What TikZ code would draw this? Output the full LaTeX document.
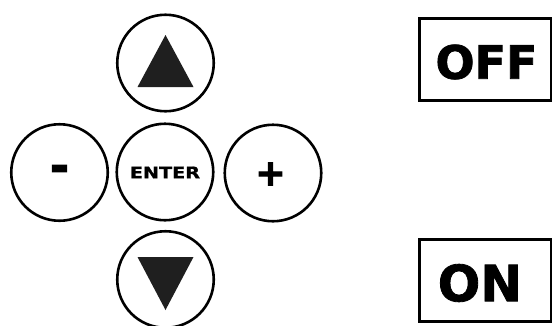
\documentclass[tikz,border=0pt]{standalone}
\usepackage{fontspec}
\newfontfamily\heavyfont{DejaVu Sans Bold}[FakeBold=1.6]
\newfontfamily\signfont{DejaVu Sans Bold}[FakeBold=3]
\newfontfamily\wideenter{DejaVu Sans Bold}[FakeStretch=1.2,FakeBold=1]
\begin{document}
\begin{tikzpicture}[x=1pt,y=-1pt,
  btn/.style={draw=black,line width=2.6pt,circle,minimum size=96.5pt,inner sep=0pt},
  lampbox/.style={draw=black,line width=3pt,rectangle,inner sep=0pt,minimum width=132pt,minimum height=82pt},
  tri/.style={fill=black!88}]
\useasboundingbox (0,0) rectangle (552,325);
\clip (0,0) rectangle (552,325);
\node[btn] (up) at (165.5,63) {};
\node[btn] (minus) at (59.5,172.5) {};
\node[btn] (enter) at (165,172) {};
\node[btn] (plus) at (273,173) {};
\node[btn] (down) at (165.5,279.5) {};
\node at ([yshift=-0.5pt]enter.center) {\wideenter\fontsize{16}{16}\selectfont ENTER};
\node at ([xshift=-2.5pt,yshift=-1pt]plus.center) {\signfont\fontsize{36}{36}\selectfont +};
\node at ([yshift=-1pt]minus.center) {\signfont\fontsize{46}{46}\selectfont -};
\fill[tri] ([yshift=28pt]up.center) -- ([xshift=28pt,yshift=-24pt]up.center) -- ([xshift=-28pt,yshift=-24pt]up.center) -- cycle;
\fill[tri] ([xshift=-28pt,yshift=22.5pt]down.center) -- ([xshift=28pt,yshift=22.5pt]down.center) -- ([yshift=-30.5pt]down.center) -- cycle;
\node[lampbox] (off) at (485.25,59.5) {};
\node[lampbox] (on) at (485.25,280.5) {};
\node at (486.5,62) {\heavyfont\fontsize{46}{46}\selectfont OFF};
\node at (480,283) {\heavyfont\fontsize{50}{50}\selectfont ON};
\end{tikzpicture}
\end{document}
